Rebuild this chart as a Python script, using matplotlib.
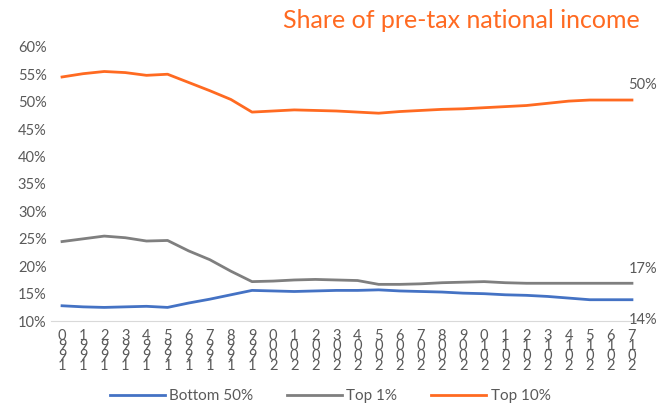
import matplotlib
matplotlib.use("Agg")
import matplotlib.pyplot as plt
from matplotlib.ticker import PercentFormatter
from matplotlib.transforms import blended_transform_factory

years = list(range(1990, 2018))

top10 = [54.5, 55.1, 55.5, 55.3, 54.8, 55.0, 53.5, 52.0, 50.4, 48.1,
         48.3, 48.5, 48.4, 48.3, 48.1, 47.9, 48.2, 48.4, 48.6, 48.7,
         48.9, 49.1, 49.3, 49.7, 50.1, 50.3, 50.3, 50.3]
top1 = [24.5, 25.0, 25.5, 25.2, 24.6, 24.7, 22.8, 21.2, 19.1, 17.2,
        17.3, 17.5, 17.6, 17.5, 17.4, 16.7, 16.7, 16.8, 17.0, 17.1,
        17.2, 17.0, 16.9, 16.9, 16.9, 16.9, 16.9, 16.9]
bottom50 = [12.8, 12.6, 12.5, 12.6, 12.7, 12.5, 13.3, 14.0, 14.8, 15.6,
            15.5, 15.4, 15.5, 15.6, 15.6, 15.7, 15.5, 15.4, 15.3, 15.1,
            15.0, 14.8, 14.7, 14.5, 14.2, 13.9, 13.9, 13.9]

end_labels = ["50%", "17%", "14%"]

grey = "#595959"
plt.rcParams["font.family"] = ["Lato", "DejaVu Sans"]

fig = plt.figure(figsize=(6.6, 4.07), dpi=100)
ax = fig.add_axes([0.078, 0.211, 0.8955, 0.674])

ax.plot(years, bottom50, color="#4472C4", lw=2, label="Bottom 50%")
ax.plot(years, top1, color="#7F7F7F", lw=2, label="Top 1%")
ax.plot(years, top10, color="#FF6A21", lw=2, label="Top 10%")

ax.set_xlim(1989.5, 2017.5)
ax.set_ylim(10, 60)
ax.set_yticks(range(10, 61, 5))
ax.yaxis.set_major_formatter(PercentFormatter(decimals=0))
ax.set_xticks(years)
ax.set_xticklabels(["\n".join(reversed(str(y))) for y in years],
                   linespacing=0.62, va="top")

for s in ["top", "right", "left"]:
    ax.spines[s].set_visible(False)
ax.spines["bottom"].set_color("#D9D9D9")
ax.tick_params(axis="both", length=0, colors=grey, labelsize=10.5)
ax.tick_params(axis="x", pad=6)

# end-of-line value labels, right-aligned to the figure edge
tr = blended_transform_factory(fig.transFigure, ax.transData)
ax.text(0.996, top10[-1] + 1.4, end_labels[0], transform=tr, color=grey,
        fontsize=10.5, ha="right", va="bottom")
ax.text(0.996, top1[-1] + 1.4, end_labels[1], transform=tr, color=grey,
        fontsize=10.5, ha="right", va="bottom")
ax.text(0.996, 10.2, end_labels[2], transform=tr, color=grey,
        fontsize=10.5, ha="right", va="center")

fig.text(0.97, 0.95, "Share of pre-tax national income", color="#FF6A21",
         fontsize=18, ha="right", va="center")

fig.legend(loc="center", bbox_to_anchor=(0.5, 0.027), ncol=3, frameon=False,
           fontsize=11, handlelength=3.6, handletextpad=0.3, columnspacing=2.2,
           labelcolor=grey)

fig.savefig("out.png", dpi=100)
